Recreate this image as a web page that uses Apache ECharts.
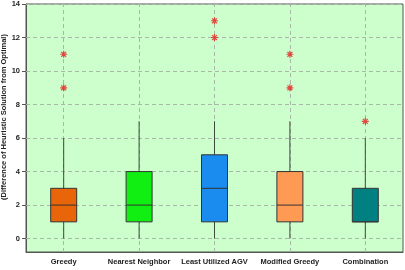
<!DOCTYPE html>
<html>
<head>
<meta charset="utf-8">
<script src="https://cdn.jsdelivr.net/npm/echarts@6/dist/echarts.min.js"></script>
<style>
  html, body { margin: 0; padding: 0; background: #fff; }
  #chart { width: 405px; height: 270px; }
</style>
</head>
<body>
<div id="chart"></div>
<script>
// categories on the x axis
const methods = ['Greedy', 'Nearest Neighbor', 'Least Utilized AGV', 'Modified Greedy', 'Combination']
// [min, Q1, median, Q3, max] per method
const boxStats = [
  [0, 1, 2, 3, 6],
  [0, 1, 2, 4, 7],
  [0, 1, 3, 5, 7],
  [0, 1, 2, 4, 7],
  [0, 1, 1, 3, 6],
]
// outliers as [category index, value]
const outliers = [
  [0, 9], [0, 11],
  [2, 12], [2, 13],
  [3, 9], [3, 11],
  [4, 7],
]
const boxColors = ['#E8650A', '#11EE11', '#1A8CF0', '#FF9A55', '#008080']
const yTicks = [0, 2, 4, 6, 8, 10, 12, 14]

const font = 'Liberation Sans, Arial, sans-serif'
const chart = echarts.init(document.getElementById('chart'))

const gridDash = { color: '#A8B8A8', type: [4, 3], width: 1 }
const boxHalf = 13

function renderBox(params, api) {
  const i = api.value(0)
  const pMin = api.coord([i, api.value(1)])
  const pQ1 = api.coord([i, api.value(2)])
  const pMed = api.coord([i, api.value(3)])
  const pQ3 = api.coord([i, api.value(4)])
  const pMax = api.coord([i, api.value(5)])
  const x = pQ1[0]
  const whisker = { stroke: '#3f4a3f', lineWidth: 1 }
  return {
    type: 'group',
    children: [
      { type: 'line', shape: { x1: x, y1: pMin[1], x2: x, y2: pQ1[1] }, style: whisker },
      { type: 'line', shape: { x1: x, y1: pQ3[1], x2: x, y2: pMax[1] }, style: whisker },
      {
        type: 'rect',
        shape: { x: x - boxHalf, y: pQ3[1], width: boxHalf * 2, height: pQ1[1] - pQ3[1] },
        style: { fill: boxColors[i], stroke: '#333', lineWidth: 1 },
      },
      { type: 'line', shape: { x1: x - boxHalf, y1: pMed[1], x2: x + boxHalf, y2: pMed[1] }, style: { stroke: '#333', lineWidth: 1 } },
    ],
  }
}

const option = {
  animation: false,
  grid: {
    left: 26, right: 2, top: 4, bottom: 18,
    containLabel: false,
    outerBoundsMode: 'none',
    show: true,
    backgroundColor: '#CCFFCC',
    borderColor: '#555',
    borderWidth: 1,
  },
  xAxis: {
    type: 'category',
    data: methods,
    boundaryGap: true,
    axisLine: { onZero: false, lineStyle: { color: '#555', width: 1 } },
    axisTick: { alignWithLabel: true, length: 4, lineStyle: { color: '#555' } },
    axisLabel: { interval: 0, color: '#222', fontFamily: font, fontWeight: 'bold', fontSize: 7.5, margin: 6 },
    splitLine: { show: false },
  },
  yAxis: {
    type: 'value',
    min: -0.8,
    max: 14,
    name: '(Difference of Heuristic Solution from Optimal)',
    nameLocation: 'middle',
    nameRotate: 90,
    nameGap: 18,
    nameMoveOverlap: false,
    nameTextStyle: { color: '#222', fontFamily: font, fontWeight: 'bold', fontSize: 7.5, padding: [0, 0, 0, 22] },
    axisLine: { show: true, onZero: false, lineStyle: { color: '#555', width: 1 } },
    axisTick: { show: true, length: 4, customValues: yTicks, lineStyle: { color: '#555' } },
    axisLabel: { color: '#222', fontFamily: font, fontWeight: 'bold', fontSize: 7.5, margin: 6, customValues: yTicks },
    splitLine: { show: false },
  },
  series: [
    {
      type: 'line',
      data: [],
      z: 1,
      markLine: {
        silent: true,
        z: 1,
        symbol: 'none',
        label: { show: false },
        lineStyle: gridDash,
        data: yTicks.map(v => ({ yAxis: v }))
          .concat(methods.map(m => ({ xAxis: m }))),
      },
    },
    {
      type: 'custom',
      renderItem: renderBox,
      data: boxStats.map((d, i) => [i].concat(d)),
      encode: { x: 0, y: [1, 2, 3, 4, 5] },
      z: 3,
    },
    {
      type: 'scatter',
      data: outliers,
      symbol: 'path://M0,-5L0,5M-5,0L5,0M-3.5,-3.5L3.5,3.5M-3.5,3.5L3.5,-3.5',
      symbolSize: 7,
      itemStyle: { color: 'rgba(0,0,0,0)', borderColor: '#E82020', borderWidth: 1.2 },
      z: 4,
    },
  ],
}
chart.setOption(option)
</script>
</body>
</html>
